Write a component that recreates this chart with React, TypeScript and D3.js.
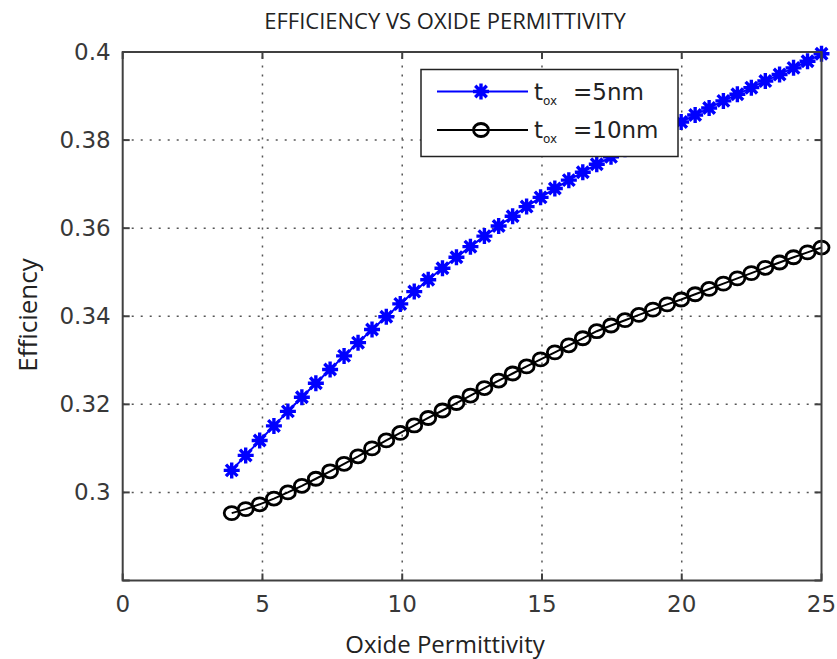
import React, { useRef, useEffect } from 'react';
import * as d3 from 'd3';

// oxide permittivity samples (x)
const permittivity = [
  3.9, 4.4, 4.9, 5.41, 5.91, 6.41, 6.91, 7.42, 7.92, 8.42, 8.92, 9.43, 9.93, 10.43, 10.93,
  11.44, 11.94, 12.44, 12.94, 13.45, 13.95, 14.45, 14.95, 15.46, 15.96, 16.46, 16.96, 17.47,
  17.97, 18.47, 18.97, 19.48, 19.98, 20.48, 20.98, 21.49, 21.99, 22.49, 22.99, 23.5, 24.0,
  24.5, 25.0,
];

// tox = 5nm
const eff5nm = [
  0.305, 0.3084, 0.3118, 0.3151, 0.3184, 0.3216, 0.3248, 0.3279, 0.331, 0.334, 0.337, 0.3399,
  0.3428, 0.3456, 0.3483, 0.3509, 0.3534, 0.3558, 0.3582, 0.3605, 0.3627, 0.3649, 0.367,
  0.369, 0.3709, 0.3727, 0.3745, 0.3762, 0.3779, 0.3795, 0.3811, 0.3826, 0.3841, 0.3857,
  0.3873, 0.3889, 0.3904, 0.3919, 0.3934, 0.3949, 0.3964, 0.3979, 0.3996,
];

// tox = 10nm
const eff10nm = [
  0.2953, 0.2962, 0.2973, 0.2986, 0.3, 0.3015, 0.3031, 0.3048, 0.3065, 0.3082, 0.31, 0.3118,
  0.3135, 0.3152, 0.3169, 0.3186, 0.3203, 0.322, 0.3237, 0.3254, 0.327, 0.3286, 0.3302,
  0.3318, 0.3334, 0.335, 0.3366, 0.3379, 0.3391, 0.3403, 0.3415, 0.3427, 0.3438, 0.345,
  0.3462, 0.3474, 0.3486, 0.3498, 0.351, 0.3522, 0.3534, 0.3545, 0.3556,
];

const xTicks = [0, 5, 10, 15, 20, 25];
const yTicks = [0.28, 0.3, 0.32, 0.34, 0.36, 0.38, 0.4];
const yTickLabels = ['', '0.3', '0.32', '0.34', '0.36', '0.38', '0.4'];
const legendLabels = ['=5nm', '=10nm'];

const W = 837;
const H = 659;

const starPath = (r) => {
  const d = r * 0.72;
  return `M${-r},0L${r},0M0,${-r}L0,${r}M${-d},${-d}L${d},${d}M${-d},${d}L${d},${-d}`;
};

const App = () => {
  const svgRef = useRef();

  useEffect(() => {
    const svg = d3.select(svgRef.current);
    svg.selectAll('*').remove();

    const margin = { left: 122.7, right: 15.5, top: 52, bottom: 78.5 };
    const x = d3.scaleLinear().domain([0, 25]).range([margin.left, W - margin.right]);
    const y = d3.scaleLinear().domain([0.28, 0.4]).range([H - margin.bottom, margin.top]);
    const [x0, x1] = x.range();
    const [y0, y1] = y.range();

    svg.append('rect').attr('width', W).attr('height', H).attr('fill', 'white');

    // title
    svg.append('text')
      .attr('x', 445).attr('y', 29)
      .attr('text-anchor', 'middle')
      .style('font', '22px "Open Sans", sans-serif')
      .attr('fill', '#222')
      .text('EFFICIENCY VS OXIDE PERMITTIVITY');

    // dotted grid
    const grid = svg.append('g')
      .attr('stroke', '#555')
      .attr('stroke-width', 1.5)
      .attr('stroke-dasharray', '2,7');
    grid.selectAll('.gx').data(xTicks.slice(1, -1)).join('line')
      .attr('x1', (d) => x(d)).attr('x2', (d) => x(d))
      .attr('y1', y0).attr('y2', y1);
    grid.selectAll('.gy').data(yTicks.slice(1, -1)).join('line')
      .attr('y1', (d) => y(d)).attr('y2', (d) => y(d))
      .attr('x1', x0).attr('x2', x1);

    // data series
    const line = d3.line()
      .x((d, i) => x(permittivity[i]))
      .y((d) => y(d));

    svg.append('path').datum(eff10nm)
      .attr('fill', 'none').attr('stroke', 'black').attr('stroke-width', 2)
      .attr('d', line);
    svg.append('g').selectAll('ellipse').data(eff10nm).join('ellipse')
      .attr('cx', (d, i) => x(permittivity[i]))
      .attr('cy', (d) => y(d))
      .attr('rx', 7.5).attr('ry', 6.5)
      .attr('fill', 'none').attr('stroke', 'black').attr('stroke-width', 2.8);

    svg.append('path').datum(eff5nm)
      .attr('fill', 'none').attr('stroke', '#0000ff').attr('stroke-width', 2)
      .attr('d', line);
    svg.append('g').selectAll('path').data(eff5nm).join('path')
      .attr('transform', (d, i) => `translate(${x(permittivity[i])},${y(d)})`)
      .attr('d', starPath(8))
      .attr('fill', 'none').attr('stroke', '#0000ff').attr('stroke-width', 3.4);

    // axes box and inward ticks
    const axis = svg.append('g').attr('stroke', '#404040').attr('stroke-width', 2);
    axis.append('rect')
      .attr('x', x0).attr('y', y1)
      .attr('width', x1 - x0).attr('height', y0 - y1)
      .attr('fill', 'none');
    const tl = 7;
    xTicks.forEach((t) => {
      axis.append('line').attr('x1', x(t)).attr('x2', x(t)).attr('y1', y0).attr('y2', y0 - tl);
      axis.append('line').attr('x1', x(t)).attr('x2', x(t)).attr('y1', y1).attr('y2', y1 + tl);
    });
    yTicks.forEach((t) => {
      axis.append('line').attr('y1', y(t)).attr('y2', y(t)).attr('x1', x0).attr('x2', x0 + tl);
      axis.append('line').attr('y1', y(t)).attr('y2', y(t)).attr('x1', x1).attr('x2', x1 - tl);
    });

    // tick labels
    const tickFont = '23px "DejaVu Sans", sans-serif';
    svg.append('g').selectAll('text').data(xTicks).join('text')
      .attr('x', (d) => x(d)).attr('y', y0 + 31)
      .attr('text-anchor', 'middle')
      .style('font', tickFont).attr('fill', '#383838')
      .text((d) => d);
    svg.append('g').selectAll('text').data(yTicks).join('text')
      .attr('x', x0 - 12).attr('y', (d) => y(d) + 8)
      .attr('text-anchor', 'end')
      .style('font', tickFont).attr('fill', '#383838')
      .text((d, i) => yTickLabels[i]);

    // axis labels
    svg.append('text')
      .attr('x', 445).attr('y', 653)
      .attr('text-anchor', 'middle')
      .style('font', '24px "Open Sans", sans-serif').attr('fill', '#222')
      .text('Oxide Permittivity');
    svg.append('text')
      .attr('transform', 'translate(37,315) rotate(-90)')
      .attr('text-anchor', 'middle')
      .style('font', '26px "Open Sans", sans-serif').attr('fill', '#222')
      .text('Efficiency');

    // legend
    const lg = svg.append('g').attr('transform', 'translate(421,69.5)');
    lg.append('rect').attr('width', 257).attr('height', 87)
      .attr('fill', 'white').attr('stroke', '#222').attr('stroke-width', 1.5);
    const rows = [
      { color: '#0000ff', marker: 'star', label: legendLabels[0], yy: 22 },
      { color: 'black', marker: 'circle', label: legendLabels[1], yy: 60.5 },
    ];
    rows.forEach((r) => {
      lg.append('line').attr('x1', 16).attr('x2', 107).attr('y1', r.yy).attr('y2', r.yy)
        .attr('stroke', r.color).attr('stroke-width', 2);
      if (r.marker === 'star') {
        lg.append('path').attr('transform', `translate(60,${r.yy})`).attr('d', starPath(8))
          .attr('stroke', r.color).attr('stroke-width', 3.4).attr('fill', 'none');
      } else {
        lg.append('ellipse').attr('cx', 60).attr('cy', r.yy).attr('rx', 7.5).attr('ry', 6.5)
          .attr('stroke', r.color).attr('stroke-width', 2.8).attr('fill', 'none');
      }
      const t = lg.append('text').attr('x', 113).attr('y', r.yy + 8)
        .style('font', '23px "DejaVu Sans", sans-serif').attr('fill', '#222');
      t.append('tspan').text('t');
      t.append('tspan').attr('dy', 5).style('font-size', '12px').text('ox');
      t.append('tspan').attr('x', 152).attr('dy', -5).text(r.label);
    });

    return () => svg.selectAll('*').remove();
  }, []);

  return (
    <svg
      ref={svgRef}
      width={W}
      height={H}
      style={{ position: 'absolute', left: 0, top: 0, display: 'block' }}
    />
  );
};

export default App;
